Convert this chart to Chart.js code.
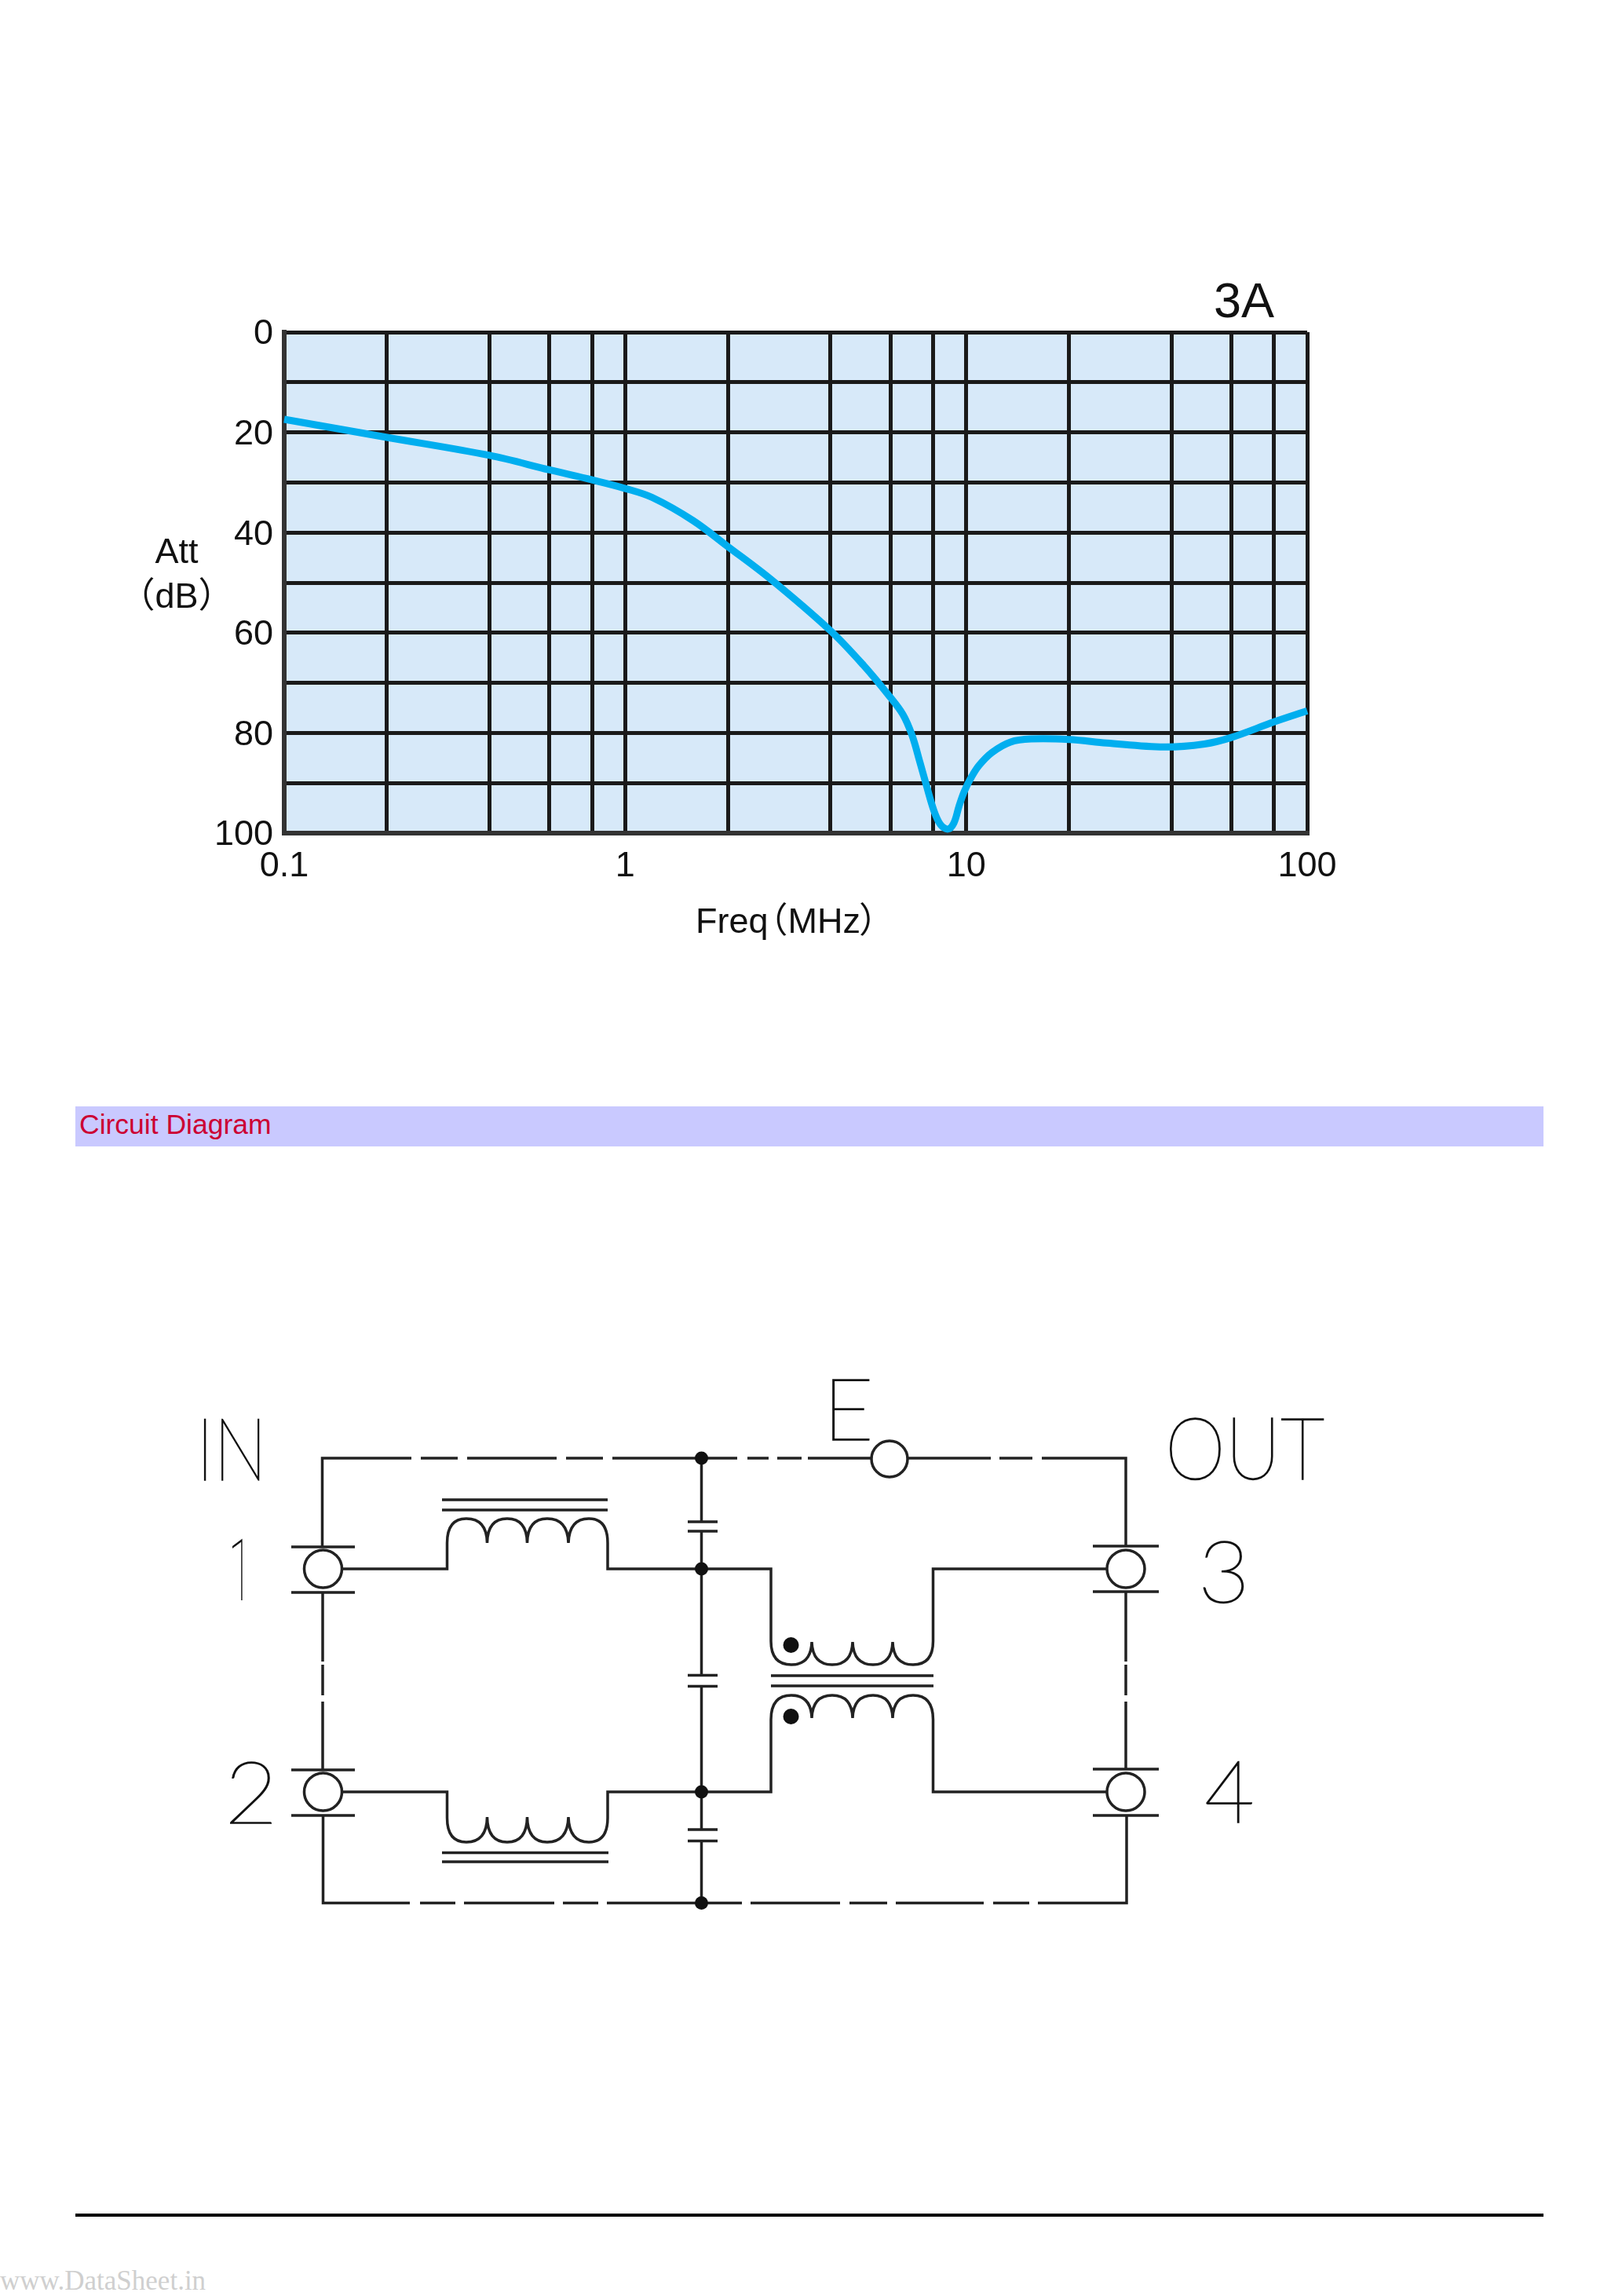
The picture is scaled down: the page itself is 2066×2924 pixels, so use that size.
<!DOCTYPE html>
<html lang="ko">
<head>
    <meta charset="UTF-8">
    <title>Att vs Freq 3A</title>
    <script src="https://cdn.jsdelivr.net/npm/chart.js"></script>
    <style>
        html, body { margin: 0; padding: 0; background: white; }
        body { position: relative; width: 2066px; height: 2924px; overflow: hidden; font-family: "Liberation Sans", sans-serif; color: #111; }
        .abs { position: absolute; white-space: nowrap; line-height: 1; }
    </style>
</head>
<body>
    <!-- Partie haute : courbe d'attenuation -->
    <div class="abs" style="left:200px; top:340px; width:1600px; height:880px;">
        <canvas id="attChart" width="1600" height="880"></canvas>
    </div>
    <div class="abs" style="left:1546px; top:351px; font-size:63px;">3A</div>
    <div class="abs" style="left:125px; top:679px; width:200px; text-align:center; font-size:45px;">Att</div>
    <div class="abs" style="left:125px; top:736px; width:200px; text-align:center; font-size:45px; font-family:'Liberation Sans','Noto Sans CJK KR';">（dB）</div>
    <div class="abs" style="left:886px; top:1150px; font-size:45px; font-family:'Liberation Sans','Noto Sans CJK KR';">Freq<span style="margin-left:-20px;">（</span>MHz<span style="margin-left:-2px;">）</span></div>

    <!-- Bandeau -->
    <div class="abs" style="left:96px; top:1409px; width:1870px; height:51px; background:#c9c9ff;"></div>
    <div class="abs" style="left:101px; top:1415px; font-size:35.5px; color:#cc0033;">Circuit Diagram</div>

    <!-- Schema -->
    <svg class="abs" style="left:0; top:1700px;" width="2066" height="800" viewBox="0 1700 2066 800" fill="none" stroke="#222" stroke-width="3.5">
        <!-- rails -->
        <path d="M524 1857H410.5V1970 M536 1857H583 M595 1857H709 M721 1857H768 M780 1857H939 M952 1857H979 M990 1857H1021 M1029 1857H1110 M1156 1857H1262 M1273 1857H1315 M1327 1857H1434V1969"/>
        <path d="M522 2423.5H411.5V2312 M535 2423.5H580 M591 2423.5H706 M717 2423.5H762 M773 2423.5H945 M956 2423.5H1070 M1082 2423.5H1130 M1141 2423.5H1253 M1265 2423.5H1311 M1322 2423.5H1435V2312"/>
        <path d="M411 2028V2116 M411 2120V2159 M411 2167V2254 M1434 2028V2116 M1434 2120V2159 M1434 2167V2253"/>
        <!-- bornes -->
        <path d="M371 1970H452 M371 2028H452 M371 2254H452 M371 2312H452 M1392 1969H1476 M1392 2027H1476 M1392 2253H1476 M1392 2312H1476"/>
        <ellipse cx="411.5" cy="1998" rx="24" ry="24"/>
        <ellipse cx="411.5" cy="2282" rx="24" ry="24"/>
        <ellipse cx="1434" cy="1998" rx="24" ry="24"/>
        <ellipse cx="1434" cy="2282" rx="24" ry="24"/>
        <ellipse cx="1133" cy="1858" rx="23" ry="23"/>
        <!-- selfs -->
        <path d="M436 1998H569.5V1965Q569.5 1934 594 1934Q620 1934 620.5 1965Q621 1934 646 1934Q671 1934 671.5 1965Q672 1934 697 1934Q723 1934 724 1965Q725 1934 750 1934Q774 1934 774 1965V1998H893.5"/>
        <path d="M436 2282H569.5V2315Q569.5 2346 594 2346Q620 2346 620.5 2314Q621 2346 646 2346Q671 2346 671.5 2314Q672 2346 697 2346Q723 2346 724 2314Q725 2346 750 2346Q774 2346 774 2315V2282H893.5"/>
        <path d="M563 1910H774 M563 1923H774 M563 2359.5H775 M563 2371H775"/>
        <!-- condensateurs -->
        <path d="M893.5 1857V1938 M893.5 1950V2133.5 M893.5 2147.5V2330 M893.5 2344.5V2423 M876 1938H914 M876 1950H914 M876 2133.5H914 M876 2147.5H914 M876 2330H914 M876 2344.5H914"/>
        <!-- transfo -->
        <path d="M893.5 1998H982V2090Q982 2120 1008 2120Q1033 2120 1034 2091Q1035 2120 1060 2120Q1085 2120 1086 2091Q1087 2120 1112 2120Q1136 2120 1137 2091Q1138 2120 1163 2120Q1188.5 2120 1188.5 2090V1998H1410"/>
        <path d="M893.5 2282H982V2190Q982 2159 1008 2159Q1033 2159 1034 2188Q1035 2159 1060 2159Q1085 2159 1086 2188Q1087 2159 1112 2159Q1136 2159 1137 2188Q1138 2159 1163 2159Q1188.5 2159 1188.5 2190V2282H1410"/>
        <path d="M982 2134H1189 M982 2147H1189"/>
        <g fill="#111" stroke="none">
            <circle cx="893.5" cy="1857" r="8.5"/>
            <circle cx="893.5" cy="1998" r="8.5"/>
            <circle cx="893.5" cy="2282" r="8.5"/>
            <circle cx="893.5" cy="2423.5" r="8.5"/>
            <circle cx="1007.5" cy="2095" r="10"/>
            <circle cx="1007.5" cy="2186" r="10"/>
        </g>
        <g fill="#111" stroke="#111" stroke-width="1.6" font-family="Lato" font-weight="100" font-size="110">
            <text x="250" y="1885" textLength="90" lengthAdjust="spacingAndGlyphs">IN</text>
            <text x="1048" y="1833.5" textLength="65" lengthAdjust="spacingAndGlyphs">E</text>
            <text x="1484" y="1884" textLength="203" lengthAdjust="spacingAndGlyphs">OUT</text>
            <text x="291" y="2038" font-family="Roboto" stroke="none" textLength="30" lengthAdjust="spacingAndGlyphs">1</text>
            <text x="286" y="2322" textLength="68" lengthAdjust="spacingAndGlyphs">2</text>
            <text x="1526" y="2041" textLength="66" lengthAdjust="spacingAndGlyphs">3</text>
            <text x="1534" y="2321" textLength="64" lengthAdjust="spacingAndGlyphs">4</text>
        </g>
    </svg>

    <!-- Bas de page -->
    <div class="abs" style="left:96px; top:2819px; width:1870px; height:4px; background:black;"></div>
    <div class="abs" style="left:0; top:2887px; font-family:'Liberation Serif',serif; font-size:35px; color:#cfcfcf;">www.DataSheet.in</div>

    <script>
        // Valeurs
        const freqMHz = [0.1, 0.2, 0.4, 0.6, 0.8, 1, 1.2, 1.58, 2, 2.67, 4, 5, 5.96, 6.52, 6.94, 7.32, 7.64, 8.05, 8.41, 8.84, 9.2, 9.53, 9.87, 10.3, 10.9, 11.9, 13.5, 15.5, 20, 25.8, 38, 50, 60, 80, 100];
        const attDb = [17.4, 21, 24.6, 27.5, 29.5, 31.2, 33, 37.6, 42.8, 49.3, 59.6, 66.5, 72.7, 76.3, 80.5, 85.9, 90.4, 95.6, 98.3, 99.2, 98, 94.6, 91.7, 89.1, 86.5, 83.9, 81.8, 81.2, 81.3, 82, 82.8, 82.2, 80.9, 77.8, 75.6];
        const freqTicks = [0.1, 0.2, 0.4, 0.6, 0.8, 1, 2, 4, 6, 8, 10, 20, 40, 60, 80, 100];
        const freqLabels = [0.1, 1, 10, 100];
        const attLabels = [0, 20, 40, 60, 80, 100];

        // Fond de la zone de trace
        const plotBackground = {
            id: 'plotBackground',
            beforeDraw(chart) {
                const a = chart.chartArea;
                chart.ctx.fillStyle = '#d7e9f9';
                chart.ctx.fillRect(a.left, a.top, a.width, a.height);
            }
        };

        const tickFont = { family: 'Liberation Sans', size: 45 };

        new Chart(document.getElementById('attChart'), {
            type: 'line',
            data: {
                datasets: [{
                    data: freqMHz.map((f, i) => ({ x: f, y: attDb[i] })),
                    borderColor: '#00aeef',
                    borderWidth: 9,
                    pointRadius: 0,
                    tension: 0.35,
                    clip: false
                }]
            },
            options: {
                responsive: false,
                animation: false,
                devicePixelRatio: 1,
                layout: { padding: { left: 0, top: 83, right: 135, bottom: 0 } },
                plugins: { legend: { display: false }, title: { display: false }, tooltip: { enabled: false } },
                scales: {
                    x: {
                        type: 'logarithmic',
                        min: 0.1,
                        max: 100,
                        afterBuildTicks(scale) { scale.ticks = freqTicks.map(v => ({ value: v })); },
                        afterFit(scale) { scale.height = 159; scale.paddingLeft = 0; scale.paddingRight = 0; },
                        grid: { color: '#1a1a1a', lineWidth: 5, drawTicks: false },
                        border: { color: '#333', width: 6 },
                        ticks: {
                            color: '#111',
                            font: tickFont,
                            padding: 16,
                            maxRotation: 0,
                            autoSkip: false,
                            callback: v => freqLabels.includes(v) ? String(v) : ''
                        }
                    },
                    y: {
                        reverse: true,
                        min: 0,
                        max: 100,
                        afterFit(scale) { scale.width = 162; scale.paddingTop = 0; scale.paddingBottom = 0; },
                        grid: { color: '#1a1a1a', lineWidth: 5, drawTicks: false },
                        border: { color: '#333', width: 6 },
                        ticks: {
                            stepSize: 10,
                            color: '#111',
                            font: tickFont,
                            padding: 14,
                            labelOffset: 3,
                            callback: v => attLabels.includes(v) ? String(v) : ''
                        }
                    }
                }
            },
            plugins: [plotBackground]
        });
    </script>
</body>
</html>
